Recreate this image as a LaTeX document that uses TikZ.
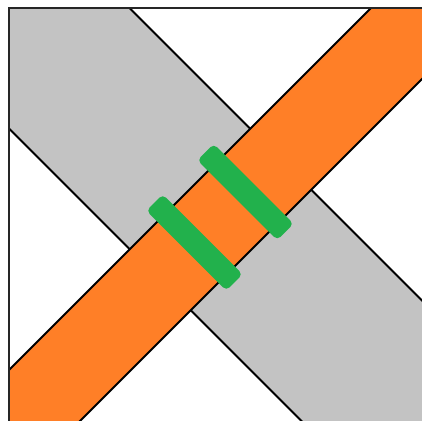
\documentclass[tikz,border=0pt]{standalone}
\definecolor{bandgray}{HTML}{C3C3C3}
\definecolor{bandorange}{HTML}{FF7F27}
\definecolor{bargreen}{HTML}{22B14C}
\tikzset{
  edge/.style={black, line width=2pt},
  greenbar/.style={fill=bargreen, draw=none, inner sep=0pt, rounded corners=4.5pt,
     minimum width=113pt, minimum height=23pt, rotate=-45},
}
\begin{document}
\begin{tikzpicture}[x=1pt,y=-1pt]
\useasboundingbox (0,0) rectangle (422,420);
\fill[white] (0,0) rectangle (422,420);
\begin{scope}
\clip (9,8) rectangle (423,421);
% gray band (slope +1 in image coordinates)
\fill[bandgray] (-200,-321.5) -- (700,578.5) -- (700,819.5) -- (-200,-80.5) -- cycle;
\draw[edge] (-200,-321.5) -- (700,578.5);
\draw[edge] (-200,-80.5) -- (700,819.5);
% orange band
\fill[bandorange] (-200,579) -- (700,-321) -- (700,-199) -- (-200,701) -- cycle;
\draw[edge] (-200,579) -- (700,-321);
\draw[edge] (-200,701) -- (700,-199);
\end{scope}
% green bars
\node[greenbar] (b1) at (194.5,242.5) {};
\node[greenbar] (b2) at (245.5,192) {};
% frame
\draw[black!85, line width=1.3pt] (9,421) -- (9,8) -- (423,8);
\end{tikzpicture}
\end{document}
